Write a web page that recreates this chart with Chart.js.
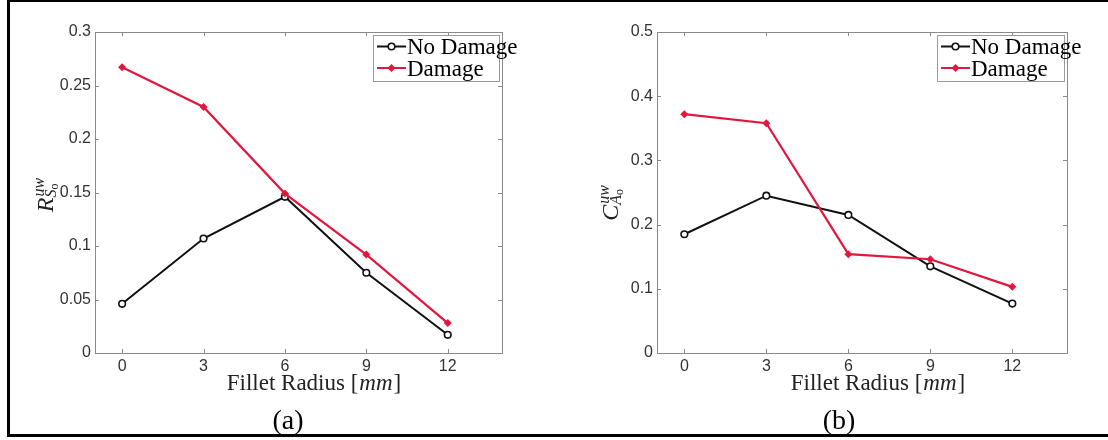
<!DOCTYPE html>
<html>
<head>
<meta charset="utf-8">
<script src="https://cdn.jsdelivr.net/npm/chart.js@4.4.1/dist/chart.umd.min.js"></script>
<style>
  html, body { margin: 0; padding: 0; background: #fff; }
  #page { position: relative; width: 1108px; height: 440px; overflow: hidden; background: #fff; }
  #page canvas { position: absolute; top: 0; }
  #chartA { left: 0; }
  #chartB { left: 554px; }
  .frame { position: absolute; background: #000; }
</style>
</head>
<body>
<div id="page">
  <canvas id="chartA" width="554" height="440"></canvas>
  <canvas id="chartB" width="554" height="440"></canvas>
  <div class="frame" style="left:7px; top:0; width:1101px; height:2px;"></div>
  <div class="frame" style="left:7px; top:0; width:3px; height:437px;"></div>
  <div class="frame" style="left:7px; top:434px; width:1101px; height:3px;"></div>
</div>
<script>
// fillet radius [mm]
const radius = [0, 3, 6, 9, 12];
const xTickVals = [0, 3, 6, 9, 12];

// (a) R_So^uw
const rNoDamage = [0.046, 0.107, 0.146, 0.075, 0.017];
const rDamage   = [0.267, 0.230, 0.149, 0.092, 0.028];

// (b) C_Ao^uw
const cNoDamage = [0.185, 0.245, 0.215, 0.135, 0.077];
const cDamage   = [0.372, 0.358, 0.154, 0.146, 0.103];

const seriesNames = ['No Damage', 'Damage'];
const BLACK = '#111111';
const RED = '#e3173e';
const AXIS_GRAY = '#8a8a8a';
const SERIF = '"Liberation Serif", "Times New Roman", serif';
const SANS = '"Liberation Sans", Arial, sans-serif';

function pts(ys) { return radius.map((x, i) => ({ x: x, y: ys[i] })); }

// diamond / circle markers used both on the lines and in the legend
function drawMarker(ctx, kind, x, y) {
  ctx.save();
  if (kind === 'circle') {
    ctx.beginPath();
    ctx.arc(x, y, 3.3, 0, Math.PI * 2);
    ctx.fillStyle = '#fff';
    ctx.fill();
    ctx.lineWidth = 1.6;
    ctx.strokeStyle = BLACK;
    ctx.stroke();
  } else {
    const r = 4;
    ctx.beginPath();
    ctx.moveTo(x, y - r); ctx.lineTo(x + r, y); ctx.lineTo(x, y + r); ctx.lineTo(x - r, y);
    ctx.closePath();
    ctx.fillStyle = RED;
    ctx.fill();
  }
  ctx.restore();
}

// axis box, inward ticks on all four sides, legend, axis titles
const panelDecor = {
  id: 'panelDecor',
  afterDatasetsDraw(chart, args, o) {
    const ctx = chart.ctx;
    const a = chart.chartArea;
    const xs = chart.scales.x, ys = chart.scales.y;
    ctx.save();
    ctx.strokeStyle = AXIS_GRAY;
    ctx.lineWidth = 1;
    ctx.strokeRect(Math.round(a.left) + 0.5, Math.round(a.top) + 0.5,
                   Math.round(a.right - a.left), Math.round(a.bottom - a.top));
    const tl = 4;
    ctx.beginPath();
    xs.ticks.forEach(t => {
      const px = Math.round(xs.getPixelForValue(t.value)) + 0.5;
      ctx.moveTo(px, a.bottom); ctx.lineTo(px, a.bottom - tl);
      ctx.moveTo(px, a.top); ctx.lineTo(px, a.top + tl);
    });
    ys.ticks.forEach(t => {
      const py = Math.round(ys.getPixelForValue(t.value)) + 0.5;
      ctx.moveTo(a.left, py); ctx.lineTo(a.left + tl, py);
      ctx.moveTo(a.right, py); ctx.lineTo(a.right - tl, py);
    });
    ctx.stroke();

    // legend
    const lg = o.legend;
    ctx.fillStyle = '#fff';
    ctx.fillRect(lg.x, lg.y, lg.w, lg.h);
    ctx.strokeStyle = '#9a9a9a';
    ctx.strokeRect(lg.x + 0.5, lg.y + 0.5, lg.w, lg.h);
    chart.data.datasets.forEach((ds, i) => {
      const cy = lg.y + 11.5 + i * 21.5;
      const x0 = lg.x + 4, x1 = lg.x + 33;
      ctx.beginPath();
      ctx.moveTo(x0, cy); ctx.lineTo(x1, cy);
      ctx.strokeStyle = ds.borderColor;
      ctx.lineWidth = 2;
      ctx.stroke();
      drawMarker(ctx, ds.markerKind, (x0 + x1) / 2, cy);
      ctx.fillStyle = '#000';
      ctx.font = '23px ' + SERIF;
      ctx.textBaseline = 'alphabetic';
      ctx.textAlign = 'left';
      ctx.fillText(ds.label, x1 + 1, cy + 7.5);
    });

    // x title: Fillet Radius [mm]
    ctx.fillStyle = '#222';
    ctx.textBaseline = 'alphabetic';
    ctx.textAlign = 'left';
    const p1 = 'Fillet Radius [', p2 = 'mm', p3 = ']';
    ctx.font = '23px ' + SERIF;
    const w1 = ctx.measureText(p1).width, w3 = ctx.measureText(p3).width;
    ctx.font = 'italic 23px ' + SERIF;
    const w2 = ctx.measureText(p2).width + 2;
    let tx = o.xTitleX - (w1 + w2 + w3) / 2;
    ctx.font = '23px ' + SERIF; ctx.fillText(p1, tx, 390);
    ctx.font = 'italic 23px ' + SERIF; ctx.fillText(p2, tx + w1 + 1, 390);
    ctx.font = '23px ' + SERIF; ctx.fillText(p3, tx + w1 + w2, 390);

    // y title, rotated, with super- and subscripts
    const yl = o.yTitle;
    ctx.translate(yl.x, yl.y);
    ctx.rotate(-Math.PI / 2);
    ctx.font = 'italic 24px ' + SERIF;
    const wb = ctx.measureText(yl.base).width;
    ctx.font = 'italic 16px ' + SERIF;
    const wsup = ctx.measureText(yl.sup).width;
    const wsub = ctx.measureText(yl.sub).width;
    ctx.font = '12px ' + SERIF;
    const wss = ctx.measureText(yl.subsub).width;
    const total = wb + 1 + Math.max(wsup, wsub + wss);
    const sx = -total / 2;
    ctx.fillStyle = '#222';
    ctx.font = 'italic 24px ' + SERIF; ctx.fillText(yl.base, sx, 0);
    ctx.font = 'italic 16px ' + SERIF; ctx.fillText(yl.sup, sx + wb + 1, -9);
    ctx.fillText(yl.sub, sx + wb, 3);
    ctx.font = '12px ' + SERIF; ctx.fillText(yl.subsub, sx + wb + wsub, 5);
    ctx.restore();

    // panel caption
    ctx.save();
    ctx.fillStyle = '#000';
    ctx.font = '28px ' + SERIF;
    ctx.textAlign = 'center';
    ctx.textBaseline = 'alphabetic';
    ctx.fillText(o.caption, o.captionX, 429);
    ctx.restore();
  }
};

function makePanel(id, noDmg, dmg, yMax, yStep, pad, decor) {
  return new Chart(document.getElementById(id), {
    type: 'line',
    data: {
      datasets: [
        { label: seriesNames[0], data: pts(noDmg), borderColor: BLACK, borderWidth: 2,
          pointStyle: 'circle', pointRadius: 3.3, pointBorderWidth: 1.6,
          pointBackgroundColor: '#fff', pointBorderColor: BLACK, markerKind: 'circle', order: 1 },
        { label: seriesNames[1], data: pts(dmg), borderColor: RED, borderWidth: 2.2,
          pointStyle: 'rectRot', pointRadius: 4, pointBorderWidth: 0,
          pointBackgroundColor: RED, pointBorderColor: RED, markerKind: 'diamond', order: 0 }
      ]
    },
    options: {
      responsive: false,
      animation: false,
      devicePixelRatio: 1,
      layout: { padding: pad },
      plugins: { legend: { display: false }, tooltip: { enabled: false }, panelDecor: decor },
      scales: {
        x: {
          type: 'linear', min: -1, max: 14,
          grid: { display: false, drawTicks: false }, border: { display: false },
          afterBuildTicks: s => { s.ticks = xTickVals.map(v => ({ value: v })); },
          afterFit: s => { s.height = 40; },
          ticks: { color: '#333', font: { family: SANS, size: 16 }, padding: 4, maxRotation: 0 }
        },
        y: {
          type: 'linear', min: 0, max: yMax,
          grid: { display: false, drawTicks: false }, border: { display: false },
          afterFit: s => { s.width = 60; },
          ticks: { stepSize: yStep, color: '#333', font: { family: SANS, size: 16 }, padding: 4,
                   callback: v => String(+v.toFixed(2)) }
        }
      }
    },
    plugins: [panelDecor]
  });
}

makePanel('chartA', rNoDamage, rDamage, 0.3, 0.05,
  { left: 35, right: 52, top: 32, bottom: 47 },
  { legend: { x: 373, y: 35, w: 126, h: 46 }, xTitleX: 314,
    yTitle: { x: 53, y: 195, base: 'R', sup: 'uw', sub: 'S', subsub: 'o' },
    caption: '(a)', captionX: 288 });

makePanel('chartB', cNoDamage, cDamage, 0.5, 0.1,
  { left: 43, right: 41, top: 32, bottom: 47 },
  { legend: { x: 383, y: 35, w: 127, h: 46 }, xTitleX: 324,
    yTitle: { x: 64, y: 203, base: 'C', sup: 'uw', sub: 'A', subsub: 'o' },
    caption: '(b)', captionX: 285 });
</script>
</body>
</html>
